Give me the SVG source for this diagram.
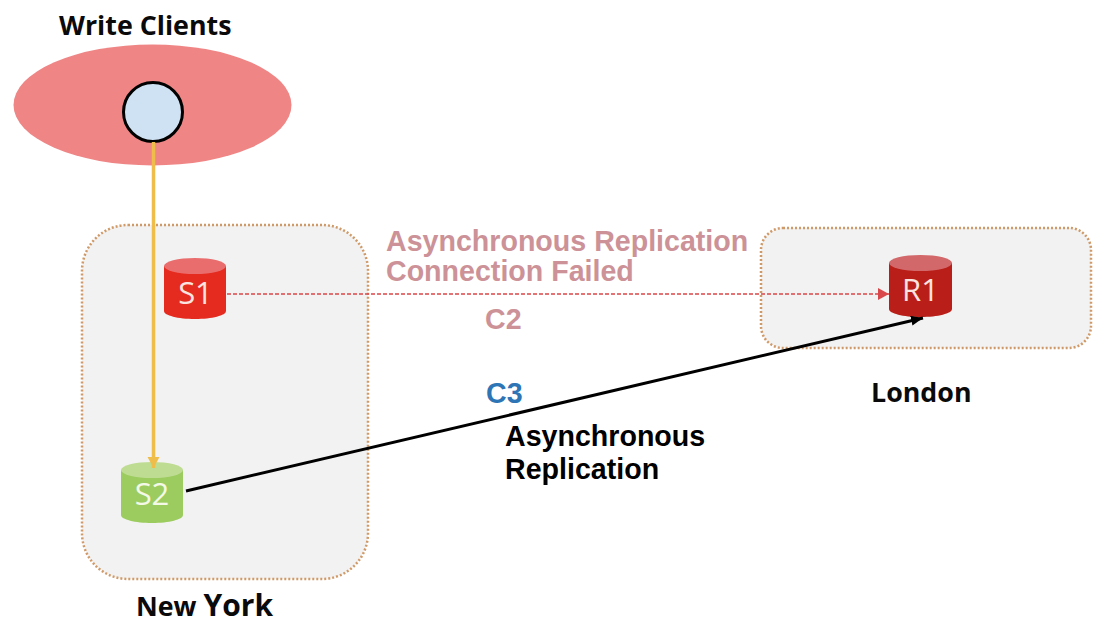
<svg xmlns="http://www.w3.org/2000/svg" width="1116" height="644" viewBox="0 0 1116 644">
<style>
.zone{fill:#f2f2f2;stroke:#d09a68;stroke-width:2.5;stroke-dasharray:2 2}
.lbl{font-family:"Open Sans","Noto Sans",sans-serif;font-weight:700;fill:#0a0a0a;font-size:26.800px}
.arial{font-family:"Liberation Sans",Arial,sans-serif;font-weight:700;font-size:28.600px}
.db{font-family:"Open Sans","Noto Sans",sans-serif;font-size:31px;text-anchor:middle}
</style>
<defs>
<marker id="y" markerUnits="userSpaceOnUse" markerWidth="14" markerHeight="14" refX="11" refY="6" orient="auto"><path d="M0 0L11 6L0 12z" fill="#efbe4a"/></marker>
<marker id="r" markerUnits="userSpaceOnUse" markerWidth="14" markerHeight="14" refX="11" refY="6" orient="auto"><path d="M0 0L11 6L0 12z" fill="#d9474a"/></marker>
<marker id="k" markerUnits="userSpaceOnUse" markerWidth="14" markerHeight="12" refX="12" refY="5" orient="auto"><path d="M0 0L12 5L0 10z" fill="#000"/></marker>
</defs>
<rect width="1116" height="644" fill="#fff"/>
<g id="zone-new-york"><rect class="zone" x="82" y="225" width="286" height="354" rx="46"/><text class="lbl" x="136" y="616">New <tspan font-size="30">York</tspan></text></g>
<g id="zone-london"><rect class="zone" x="761" y="228" width="330" height="120" rx="22"/><text class="lbl" x="871" y="402">London</text></g>
<g id="write-clients"><text class="lbl" x="59" y="35">Write Clients</text><ellipse cx="152.500" cy="105" rx="139" ry="60.500" fill="#ef8585"/><circle cx="153" cy="112" r="29.500" fill="#cfe2f3" stroke="#000" stroke-width="3"/></g>
<g id="s1"><path d="M164 266V311C164 315.500 178 319 195 319S226 315.500 226 311V266z" fill="#e52b20"/><ellipse cx="195" cy="266" rx="31" ry="8" fill="#ea6d6d"/><text class="db" x="195.500" y="304" fill="#fbe3e0">S1</text></g>
<g id="s2"><path d="M121 470V515C121 519.500 135 523 152 523S183 519.500 183 515V470z" fill="#9ccc5f"/><ellipse cx="152" cy="470" rx="31" ry="8" fill="#bfdc93"/><text class="db" x="152" y="505" fill="#f3f9e6">S2</text></g>
<g id="r1"><path d="M889 263V309C889 313.500 903 317 920.500 317S952 313.500 952 309V263z" fill="#b91f18"/><ellipse cx="920.500" cy="263" rx="31.500" ry="8" fill="#d2686a"/><text class="db" x="920.500" y="301" fill="#fbe3e0">R1</text></g>
<g id="connectors" fill="none">
<path d="M153.500 142V468" stroke="#efbe4a" stroke-width="3.500" marker-end="url(#y)"/>
<path d="M227 294H889" stroke="#d9474a" stroke-width="1.500" stroke-dasharray="4 2" marker-end="url(#r)"/>
<path d="M186 491L923 318" stroke="#000" stroke-width="3" marker-end="url(#k)"/>
</g>
<g id="labels">
<text class="arial" x="386" y="251" fill="#cc9298">Asynchronous Replication</text>
<text class="arial" x="386" y="281" fill="#cc9298">Connection Failed</text>
<text class="arial" x="485" y="329" fill="#cc9298">C2</text>
<text class="arial" x="486" y="403" fill="#2e75b6">C3</text>
<text class="arial" x="505" y="446" fill="#000">Asynchronous</text>
<text class="arial" x="505" y="479" fill="#000">Replication</text>
</g>
</svg>
